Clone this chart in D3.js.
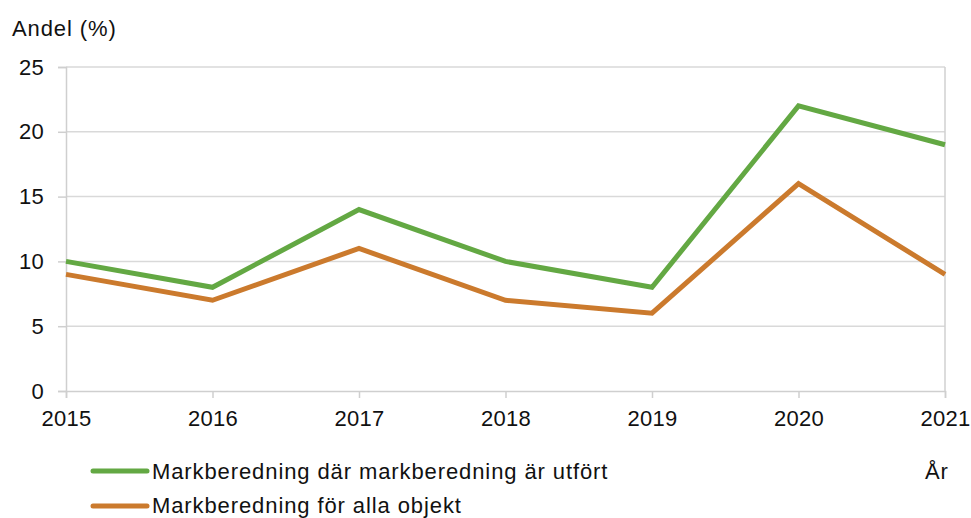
<!DOCTYPE html>
<html>
<head>
<meta charset="utf-8">
<script src="https://cdn.jsdelivr.net/npm/d3@7"></script>
<style>
  body { margin: 0; background: #fff; }
  text { font-family: "Liberation Sans", Arial, sans-serif; fill: #111; }
</style>
</head>
<body>
<svg id="mainSVG" width="971" height="518"></svg>
<script>
var years = [2015, 2016, 2017, 2018, 2019, 2020, 2021];
var utfort = [10, 8, 14, 10, 8, 22, 19];
var allaObjekt = [9, 7, 11, 7, 6, 16, 9];
var yTicks = [0, 5, 10, 15, 20, 25];
var seriesNames = ["Markberedning där markberedning är utfört", "Markberedning för alla objekt"];
var seriesColors = ["#63a843", "#cb7a2d"];

var f = { left: 66, right: 945, top: 67, bottom: 391 };

var svg = d3.select("#mainSVG");

var x = d3.scaleLinear().domain([2015, 2021]).range([f.left, f.right]);
var y = d3.scaleLinear().domain([0, 25]).range([f.bottom, f.top]);

// gridlines
svg.append("g").selectAll("line")
  .data(yTicks.filter(function(d) { return d > 0; }))
  .enter().append("line")
  .attr("x1", f.left).attr("x2", f.right)
  .attr("y1", function(d) { return y(d); })
  .attr("y2", function(d) { return y(d); })
  .attr("stroke", "#d9d9d9").attr("stroke-width", 1.5);

// right border
svg.append("line")
  .attr("x1", f.right).attr("x2", f.right)
  .attr("y1", f.top).attr("y2", f.bottom)
  .attr("stroke", "#d0d0d0").attr("stroke-width", 1.5);

// y axis
var yAxis = svg.append("g")
  .attr("transform", "translate(" + f.left + ",0)")
  .call(d3.axisLeft(y).tickValues(yTicks).tickSize(8).tickPadding(14));

// x axis
var xAxis = svg.append("g")
  .attr("transform", "translate(0," + f.bottom + ")")
  .call(d3.axisBottom(x).tickValues(years).tickFormat(d3.format("d")).tickSize(7).tickPadding(12));

svg.selectAll(".tick text")
  .style("font-size", "22px")
  .style("letter-spacing", "0.3px")
  .style("font-family", "Liberation Sans, Arial, sans-serif")
  .attr("fill", "#111");

svg.selectAll(".domain, .tick line").attr("stroke", "#cfcfcf").attr("stroke-width", 1.5);

// lines
var line = d3.line()
  .x(function(d, i) { return x(years[i]); })
  .y(function(d) { return y(d); });

[utfort, allaObjekt].forEach(function(s, i) {
  svg.append("path")
    .datum(s)
    .attr("d", line)
    .attr("fill", "none")
    .attr("stroke", seriesColors[i])
    .attr("stroke-width", 5)
    .attr("stroke-linejoin", "miter");
});

// titles
svg.append("text").attr("x", 12).attr("y", 36)
  .style("font-size", "22px").style("letter-spacing", "0.9px").text("Andel (%)");
svg.append("text").attr("x", 925).attr("y", 479)
  .style("font-size", "22px").style("letter-spacing", "0.9px").text("År");

// legend
var legend = svg.append("g");
seriesNames.forEach(function(name, i) {
  var ly = 471 + i * 35;
  legend.append("line")
    .attr("x1", 93).attr("x2", 147)
    .attr("y1", ly).attr("y2", ly)
    .attr("stroke", seriesColors[i]).attr("stroke-width", 5)
    .attr("stroke-linecap", "round");
  legend.append("text")
    .attr("x", 152).attr("y", ly + 8 - i)
    .style("font-size", "22px").style("letter-spacing", "0.9px").text(name);
});
</script>
</body>
</html>
